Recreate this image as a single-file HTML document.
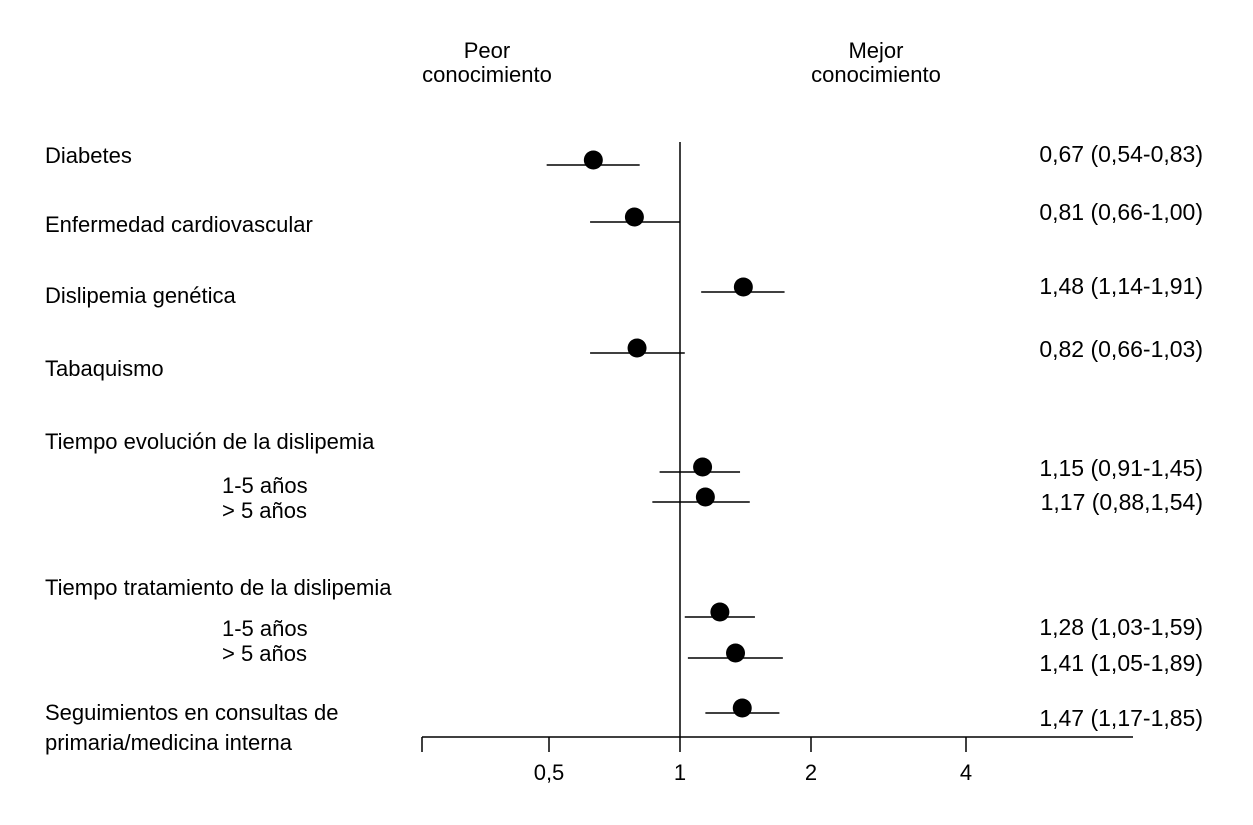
<!DOCTYPE html>
<html><head><meta charset="utf-8"><style>
html,body{margin:0;padding:0;background:#fff;}
svg{display:block;font-family:"Liberation Sans Narrow","Liberation Sans",sans-serif;}
text{font-size:22px;fill:#000;}
text.num{font-size:23px;}
</style></head><body>
<svg id="chart" width="1253" height="825" viewBox="0 0 1253 825">
<g>
<text x="487" y="58" text-anchor="middle">Peor</text>
<text x="487" y="82" text-anchor="middle">conocimiento</text>
<text x="876" y="58" text-anchor="middle">Mejor</text>
<text x="876" y="82" text-anchor="middle">conocimiento</text>
</g>
<g>
<text x="45" y="163">Diabetes</text>
<text x="45" y="232">Enfermedad cardiovascular</text>
<text x="45" y="303">Dislipemia genética</text>
<text x="45" y="376">Tabaquismo</text>
<text x="45" y="449">Tiempo evolución de la dislipemia</text>
<text x="222" y="493">1-5 años</text>
<text x="222" y="518">&gt; 5 años</text>
<text x="45" y="595">Tiempo tratamiento de la dislipemia</text>
<text x="222" y="636">1-5 años</text>
<text x="222" y="661">&gt; 5 años</text>
<text x="45" y="720">Seguimientos en consultas de</text>
<text x="45" y="750">primaria/medicina interna</text>
</g>
<g id="marks"></g>
<g id="axis"></g>
</svg>
<script>
const estimates = [0.67, 0.81, 1.48, 0.82, 1.15, 1.17, 1.28, 1.41, 1.47];
const lower = [0.54, 0.66, 1.14, 0.66, 0.91, 0.88, 1.03, 1.05, 1.17];
const upper = [0.83, 1.00, 1.91, 1.03, 1.45, 1.54, 1.59, 1.89, 1.85];
const valueLabels = ["0,67 (0,54-0,83)","0,81 (0,66-1,00)","1,48 (1,14-1,91)","0,82 (0,66-1,03)","1,15 (0,91-1,45)","1,17 (0,88,1,54)","1,28 (1,03-1,59)","1,41 (1,05-1,89)","1,47 (1,17-1,85)"];
const tickValues = [0.5, 1, 2, 4];
const tickLabels = ["0,5","1","2","4"];

const NS = "http://www.w3.org/2000/svg";
const rowY = [160, 217, 287, 348, 467, 497, 612, 653, 708];
const labelY = [160, 218, 292, 355, 474, 508, 633, 669, 724];
function x(v){ const l=Math.log2(v); return 680 + (l<0?150:112)*l; }
function xt(v){
  const a=[[0.5,549],[1,680],[2,811],[4,966]];
  for(let i=0;i<a.length-1;i++){ if(v<=a[i+1][0]){const f=(Math.log(v)-Math.log(a[i][0]))/(Math.log(a[i+1][0])-Math.log(a[i][0]));return a[i][1]+f*(a[i+1][1]-a[i][1]);} }
  return 966;
}
function mk(tag, attrs, parent){ const e=document.createElementNS(NS,tag); for(const k in attrs) e.setAttribute(k,attrs[k]); parent.appendChild(e); return e; }
const marks=document.getElementById('marks'), axis=document.getElementById('axis');

const ref = mk('line',{x1:x(1),x2:x(1),y1:142,y2:737,stroke:'#000','stroke-width':1.5},axis);


const base = mk('line',{x1:422,x2:1133,y1:737,y2:737,stroke:'#000','stroke-width':1.5},axis);


const t0 = mk('line',{x1:422,x2:422,y1:737,y2:752,stroke:'#000','stroke-width':1.5},axis);


tickValues.forEach((v,i)=>{
  const t=mk('line',{x1:xt(v),x2:xt(v),y1:737,y2:752,stroke:'#000','stroke-width':1.5},axis);
  
  
  const l=mk('text',{x:xt(v),y:780,'text-anchor':'middle'},axis);
  l.textContent=tickLabels[i];
  
  
});
estimates.forEach((v,i)=>{
  const ci=mk('line',{x1:x(lower[i]),x2:x(upper[i]),y1:rowY[i]+5,y2:rowY[i]+5,stroke:'#000','stroke-width':1.5},marks);
  
  
  const d=mk('circle',{cx:x(v),cy:rowY[i],r:9.5,fill:'#000'},marks);
  
  
  const t=mk('text',{x:1203,y:labelY[i]+2,'text-anchor':'end','class':'num'},marks);
  t.textContent=valueLabels[i];
  
  
});
</script>
</body></html>
